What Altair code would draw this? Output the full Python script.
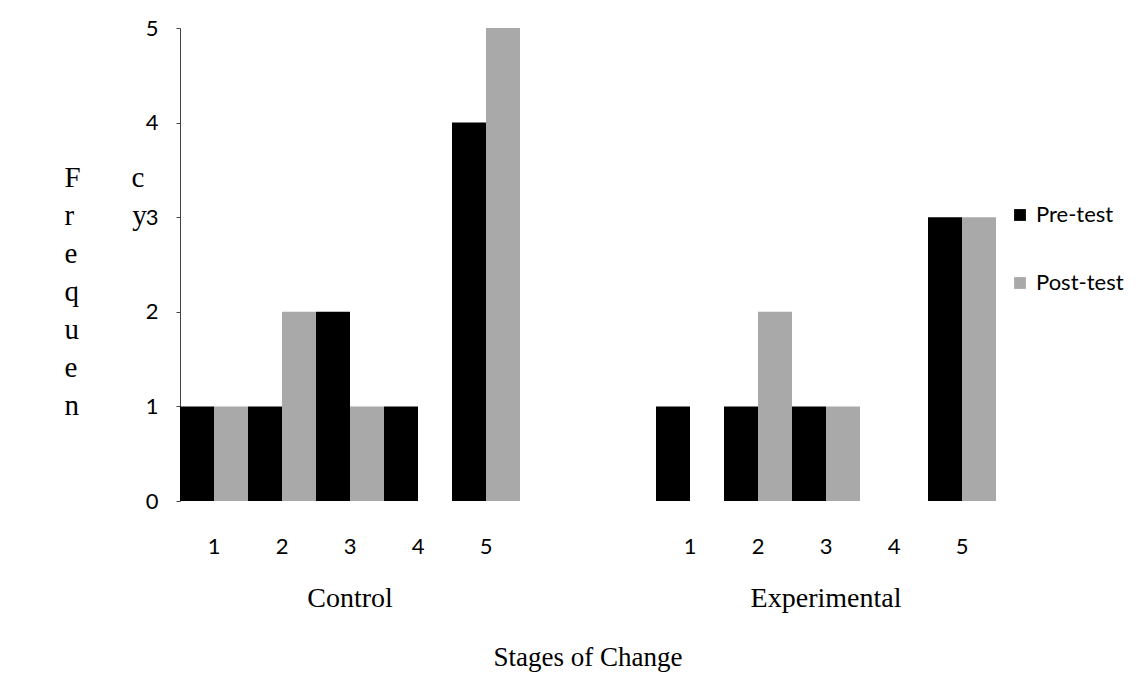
import altair as alt
import pandas as pd

groups = ["Control", "Experimental"]
stages = [1, 2, 3, 4, 5]
tests = ["Pre-test", "Post-test"]
control_pre = [1, 1, 2, 1, 4]
control_post = [1, 2, 1, 0, 5]
experimental_pre = [1, 1, 1, 0, 3]
experimental_post = [0, 2, 1, 0, 3]

rows = []
for g, pre, post in [("Control", control_pre, control_post),
                     ("Experimental", experimental_pre, experimental_post)]:
    for s, a, b in zip(stages, pre, post):
        rows.append({"group": g, "stage": s, "test": "Pre-test", "freq": a})
        rows.append({"group": g, "stage": s, "test": "Post-test", "freq": b})
df = pd.DataFrame(rows)

NB = "\u00a0"
ytitle = ["F" + NB * 7 + "c", "r" + NB * 8 + "y", "e", "q", "u", "e", "n"]

base = alt.Chart(df).mark_bar().encode(
    x=alt.X("stage:O", scale=alt.Scale(paddingInner=0, paddingOuter=0),
            axis=alt.Axis(title=None, labelAngle=0, domain=False, ticks=False,
                          labelPadding=35, labelFont="Lato", labelFontSize=22,
                          labelColor="#000000")),
    xOffset=alt.XOffset("test:N", sort=tests,
                        scale=alt.Scale(paddingInner=0, paddingOuter=0)),
    y=alt.Y("freq:Q", scale=alt.Scale(domain=[0, 5]),
            axis=alt.Axis(values=[0, 1, 2, 3, 4, 5], grid=False, format="d",
                          domainColor="#444444", tickColor="#444444", tickSize=4,
                          labelPadding=18, labelFont="Lato", labelFontSize=22,
                          labelColor="#000000",
                          title=ytitle, titleAngle=0, titleAlign="left",
                          titleBaseline="top", titleX=-116, titleY=135,
                          titleFont="Liberation Serif", titleFontSize=29,
                          titleFontWeight="normal", titleLineHeight=38,
                          titleColor="#000000")),
    color=alt.Color("test:N", sort=tests,
                    scale=alt.Scale(domain=tests, range=["#000000", "#a9a9a9"]),
                    legend=alt.Legend(title=None, orient="none", legendX=829,
                                      legendY=176, symbolType="square",
                                      symbolSize=140, symbolStrokeWidth=0,
                                      labelFont="Lato", labelFontSize=22,
                                      labelColor="#000000", rowPadding=46,
                                      labelOffset=5)),
).properties(width=340, height=473)

chart = base.facet(
    column=alt.Column("group:N", sort=groups,
                      header=alt.Header(labelOrient="bottom", titleOrient="bottom",
                                        title="Stages of Change",
                                        labelFont="Liberation Serif", labelFontSize=28,
                                        labelColor="#000000", labelPadding=28,
                                        titleFont="Liberation Serif", titleFontSize=27,
                                        titleFontWeight="normal", titleColor="#000000",
                                        titlePadding=22)),
    spacing=136,
).properties(
    padding={"left": 64, "top": 17, "right": 5, "bottom": 5},
    background="white",
).configure_view(strokeWidth=0, stroke="transparent")

chart.save("out.html", embed_options={"renderer": "svg", "actions": False})
